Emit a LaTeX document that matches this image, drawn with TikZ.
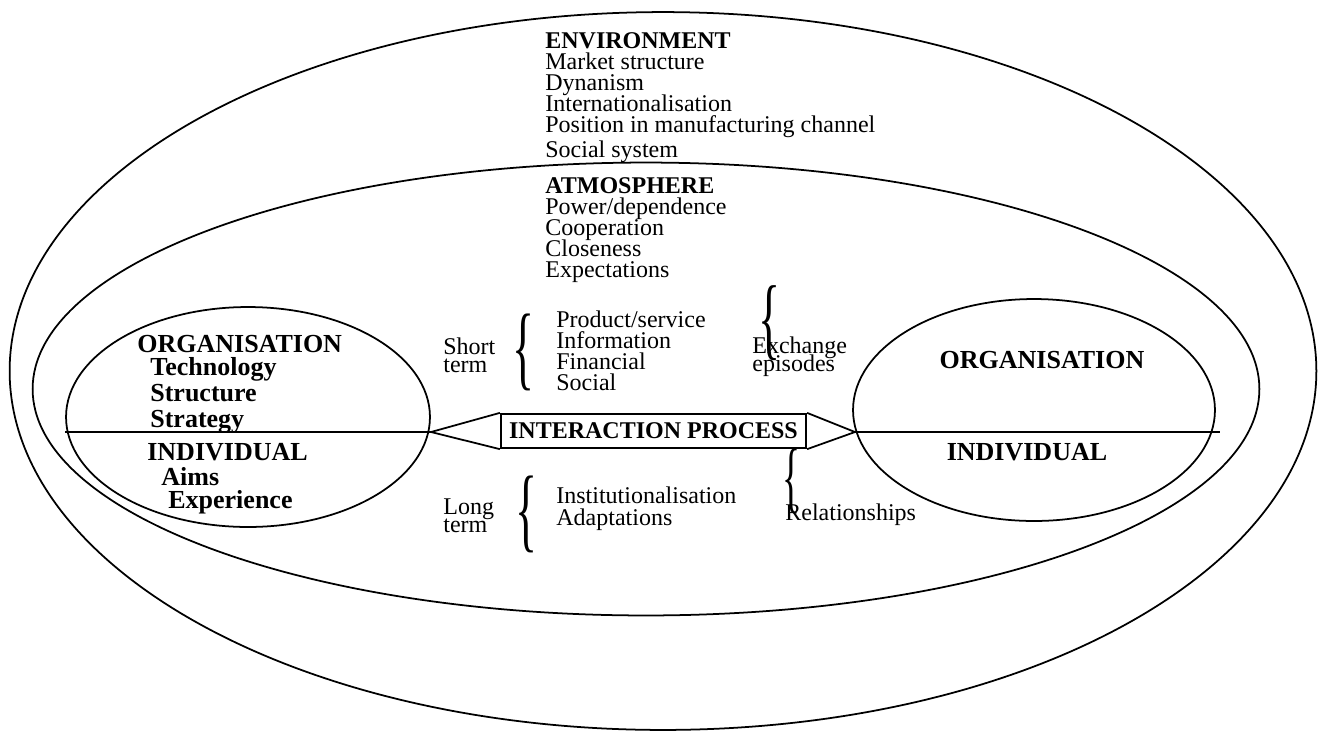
\documentclass[tikz,border=0pt]{standalone}
\usepackage{fontspec}
\setmainfont{Liberation Serif}
\usetikzlibrary{shapes.geometric}

\newcommand{\packedlines}{\lineskiplimit=-50pt\relax}
\newcommand{\bracechar}[2]{\resizebox*{#1}{#2}{\{}}
\tikzset{
  ring/.style={draw, ellipse, line width=1pt, inner sep=0pt},
  divider/.style={line width=1.3pt},
  wedge/.style={line width=1pt},
  txt/.style={inner sep=0pt, anchor=base west, align=left, font=\fontsize{13.66}{11.95}\selectfont\packedlines},
  tight/.style={font=\fontsize{13.66}{10.24}\selectfont\packedlines},
  loose/.style={font=\fontsize{13.66}{12.4}\selectfont\packedlines},
  bigtxt/.style={inner sep=0pt, align=left, font=\fontsize{14.8}{14.6}\selectfont\bfseries\packedlines},
  curly/.style={inner sep=0pt}
}

\begin{document}
\begin{tikzpicture}[x=0.02cm, y=-0.02cm]
\useasboundingbox (0,0) rectangle (1325,731);

% the four rings
\node[ring, minimum width=26.14cm, minimum height=14.36cm] (env) at (663,371) {};
\node[ring, minimum width=24.54cm, minimum height=9.06cm] (atm) at (646,389) {};
\node[ring, minimum width=7.28cm, minimum height=4.4cm] (orgl) at (248,417) {};
\node[ring, minimum width=7.24cm, minimum height=4.44cm] (orgr) at (1034,410) {};

% environment and atmosphere (base = last line)
\node[txt] (envtxt) at (545,157) {\textbf{ENVIRONMENT}\\Market structure\\Dynanism\\Internationalisation\\Position in manufacturing channel\\[2pt]Social system};
\node[txt] (atmtxt) at (545,277) {\textbf{ATMOSPHERE}\\Power/dependence\\Cooperation\\Closeness\\Expectations};

% left party
\node[bigtxt, anchor=base west] (orgltitle) at (137,352) {ORGANISATION};
\node[bigtxt, anchor=base west] (orglitems) at (150,427) {Technology\\Structure\\Strategy};
\node[bigtxt, anchor=base west] (indl) at (147,460) {INDIVIDUAL};
\node[bigtxt, anchor=base west] (aims) at (161,485) {Aims};
\node[bigtxt, anchor=base west] (exper) at (168,508) {Experience};

% right party
\node[bigtxt, anchor=base] (orgrtitle) at (1042,368) {ORGANISATION};
\node[bigtxt, anchor=base] (indr) at (1027,460) {INDIVIDUAL};

% interaction process
\node[draw, line width=1.3pt, minimum width=6.1cm, minimum height=0.68cm, inner sep=0pt, font=\fontsize{13.66}{14}\selectfont\bfseries] (proc) at (653.5,431) {INTERACTION PROCESS};
\coordinate (ltip) at (431,432);
\coordinate (rtip) at (855,432);
\coordinate (rend) at (1220,432);
\draw[divider] (orgl.west |- ltip) -- (ltip);
\draw[divider] (rtip) -- (rend);
\draw[wedge] (proc.north west) -- (ltip) -- (proc.south west);
\draw[wedge] (proc.north east) -- (rtip) -- (proc.south east);

% short and long term
\node[txt, tight] (short) at (443,372) {Short\\term};
\node[curly] (shortbr) at (523,352) {\bracechar{0.44cm}{1.54cm}};
\node[txt] (shortitems) at (556,390) {Product/service\\Information\\Financial\\Social};
\node[txt, tight] (long) at (443,532) {Long\\term};
\node[curly] (longbr) at (526,514) {\bracechar{0.44cm}{1.54cm}};
\node[txt, loose] (longitems) at (556,525) {Institutionalisation\\Adaptations};

% episodes and relationships
\node[txt, tight] (exch) at (752,371) {Exchange\\episodes};
\node[curly] (exchbr) at (769,323) {\bracechar{0.44cm}{1.5cm}};
\node[txt] (rel) at (785,520) {Relationships};
\node[curly] (relbr) at (791,481) {\bracechar{0.36cm}{1.3cm}};
\end{tikzpicture}
\end{document}
